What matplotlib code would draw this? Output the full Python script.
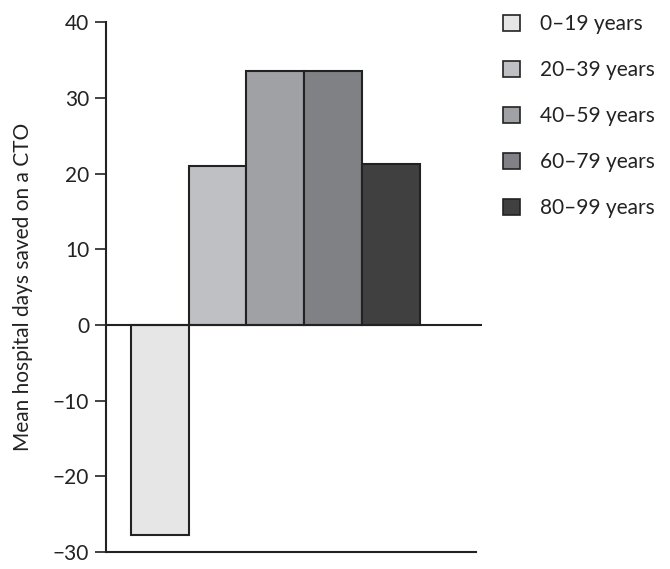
import numpy as np
import matplotlib.pyplot as plt
from matplotlib.patches import Patch

plt.rcParams['font.family'] = ['Lato', 'DejaVu Sans']

groups = ['0–19 years', '20–39 years', '40–59 years', '60–79 years', '80–99 years']
days_saved = [-27.7, 21.0, 33.5, 33.5, 21.3]
colors = ['#e6e6e6', '#bfc0c3', '#a0a1a4', '#808184', '#404040']
yticks = [-30, -20, -10, 0, 10, 20, 30, 40]

fig = plt.figure(figsize=(6.7, 5.69), dpi=100)
ax = fig.add_axes([0.158, 0.030, 0.561, 0.931])

x = np.arange(len(groups))
ax.bar(x, days_saved, width=1.0, color=colors, edgecolor='#222222', linewidth=1.5, zorder=2)
ax.axhline(0, color='#222222', lw=1.5, zorder=3)

ax.set_xlim(-0.93, 5.57)
ax.set_ylim(-30, 40)
ax.set_yticks(yticks)
ax.set_yticklabels([str(t).replace('-', '−') for t in yticks])
ax.set_xticks([])
ax.spines['top'].set_visible(False)
ax.spines['right'].set_visible(False)
ax.spines['left'].set_linewidth(1.5)
ax.spines['bottom'].set_linewidth(1.5)
ax.spines['bottom'].set_bounds(-0.93, 5.47)
ax.spines['left'].set_color('#222222')
ax.spines['bottom'].set_color('#222222')
ax.tick_params(axis='y', direction='out', length=8, width=1.2, color='#222222',
               labelsize=15, labelcolor='#222222', pad=4)
ax.set_ylabel('Mean hospital days saved on a CTO', fontsize=15, color='#222222', labelpad=14)

handles = [Patch(facecolor=c, edgecolor='#222222', linewidth=1.2) for c in colors]
fig.legend(handles, groups, loc='upper left', bbox_to_anchor=(0.723, 1.008),
           frameon=False, fontsize=15, handlelength=0.8, handleheight=0.8,
           handletextpad=0.95, labelspacing=1.25, labelcolor='#222222')

plt.savefig('out.png', dpi=100)
